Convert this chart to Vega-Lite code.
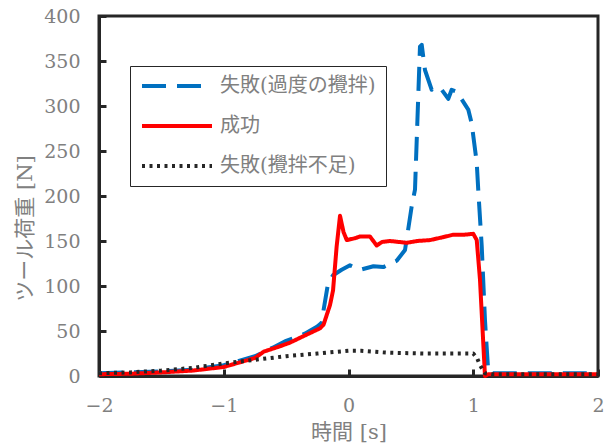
{
  "$schema": "https://vega.github.io/schema/vega-lite/v6.json",
  "width": 499,
  "height": 360,
  "autosize": {"type": "none"},
  "padding": {"left": 99, "top": 16, "right": 13, "bottom": 67},
  "background": "white",
  "config": {
    "view": {"stroke": "#262626", "strokeWidth": 3},
    "axis": {
      "grid": false,
      "zindex": 1,
      "domainColor": "#262626",
      "domainWidth": 3,
      "tickColor": "#262626",
      "tickWidth": 3,
      "tickSize": -7,
      "labelFlush": false,
      "labelFont": "DejaVu Serif, Noto Sans CJK JP",
      "labelFontSize": 19,
      "labelColor": "#808080",
      "titleFont": "DejaVu Serif, Noto Sans CJK JP",
      "titleFontSize": 21,
      "titleColor": "#808080",
      "titleFontWeight": "normal",
      "titleBaseline": "middle"
    }
  },
  "data": {
    "values": [
      {"s": "失敗(過度の攪拌)", "t": -2, "v": 3},
      {"s": "失敗(過度の攪拌)", "t": -1.75, "v": 4},
      {"s": "失敗(過度の攪拌)", "t": -1.5, "v": 5},
      {"s": "失敗(過度の攪拌)", "t": -1.25, "v": 7},
      {"s": "失敗(過度の攪拌)", "t": -1.0, "v": 12},
      {"s": "失敗(過度の攪拌)", "t": -0.75, "v": 22},
      {"s": "失敗(過度の攪拌)", "t": -0.6, "v": 32},
      {"s": "失敗(過度の攪拌)", "t": -0.5, "v": 39},
      {"s": "失敗(過度の攪拌)", "t": -0.35, "v": 47},
      {"s": "失敗(過度の攪拌)", "t": -0.25, "v": 55},
      {"s": "失敗(過度の攪拌)", "t": -0.215, "v": 59},
      {"s": "失敗(過度の攪拌)", "t": -0.2, "v": 73},
      {"s": "失敗(過度の攪拌)", "t": -0.164, "v": 103},
      {"s": "失敗(過度の攪拌)", "t": -0.124, "v": 112},
      {"s": "失敗(過度の攪拌)", "t": -0.055, "v": 118},
      {"s": "失敗(過度の攪拌)", "t": 0.012, "v": 123},
      {"s": "失敗(過度の攪拌)", "t": 0.092, "v": 118},
      {"s": "失敗(過度の攪拌)", "t": 0.2, "v": 122},
      {"s": "失敗(過度の攪拌)", "t": 0.279, "v": 121},
      {"s": "失敗(過度の攪拌)", "t": 0.386, "v": 128},
      {"s": "失敗(過度の攪拌)", "t": 0.453, "v": 140},
      {"s": "失敗(過度の攪拌)", "t": 0.506, "v": 188},
      {"s": "失敗(過度の攪拌)", "t": 0.533, "v": 207},
      {"s": "失敗(過度の攪拌)", "t": 0.573, "v": 366},
      {"s": "失敗(過度の攪拌)", "t": 0.587, "v": 368},
      {"s": "失敗(過度の攪拌)", "t": 0.613, "v": 340},
      {"s": "失敗(過度の攪拌)", "t": 0.667, "v": 318},
      {"s": "失敗(過度の攪拌)", "t": 0.693, "v": 321},
      {"s": "失敗(過度の攪拌)", "t": 0.747, "v": 318},
      {"s": "失敗(過度の攪拌)", "t": 0.8, "v": 308},
      {"s": "失敗(過度の攪拌)", "t": 0.827, "v": 318},
      {"s": "失敗(過度の攪拌)", "t": 0.867, "v": 316},
      {"s": "失敗(過度の攪拌)", "t": 0.96, "v": 296},
      {"s": "失敗(過度の攪拌)", "t": 0.987, "v": 281},
      {"s": "失敗(過度の攪拌)", "t": 1.028, "v": 237},
      {"s": "失敗(過度の攪拌)", "t": 1.04, "v": 207},
      {"s": "失敗(過度の攪拌)", "t": 1.068, "v": 144},
      {"s": "失敗(過度の攪拌)", "t": 1.094, "v": 62},
      {"s": "失敗(過度の攪拌)", "t": 1.12, "v": 5},
      {"s": "失敗(過度の攪拌)", "t": 1.15, "v": 3},
      {"s": "失敗(過度の攪拌)", "t": 1.5, "v": 3},
      {"s": "失敗(過度の攪拌)", "t": 2, "v": 3},
      {"s": "成功", "t": -2, "v": 2},
      {"s": "成功", "t": -1.75, "v": 2.5},
      {"s": "成功", "t": -1.5, "v": 4},
      {"s": "成功", "t": -1.25, "v": 6},
      {"s": "成功", "t": -1.0, "v": 10},
      {"s": "成功", "t": -0.85, "v": 16},
      {"s": "成功", "t": -0.75, "v": 20},
      {"s": "成功", "t": -0.68, "v": 27},
      {"s": "成功", "t": -0.55, "v": 33},
      {"s": "成功", "t": -0.47, "v": 37},
      {"s": "成功", "t": -0.35, "v": 45},
      {"s": "成功", "t": -0.228, "v": 53},
      {"s": "成功", "t": -0.2, "v": 57},
      {"s": "成功", "t": -0.148, "v": 79},
      {"s": "成功", "t": -0.124, "v": 95},
      {"s": "成功", "t": -0.095, "v": 144},
      {"s": "成功", "t": -0.068, "v": 178},
      {"s": "成功", "t": -0.04, "v": 160},
      {"s": "成功", "t": -0.014, "v": 151},
      {"s": "成功", "t": 0.05, "v": 153},
      {"s": "成功", "t": 0.092, "v": 155},
      {"s": "成功", "t": 0.172, "v": 155},
      {"s": "成功", "t": 0.226, "v": 145},
      {"s": "成功", "t": 0.27, "v": 149},
      {"s": "成功", "t": 0.333, "v": 150},
      {"s": "成功", "t": 0.466, "v": 148},
      {"s": "成功", "t": 0.55, "v": 150},
      {"s": "成功", "t": 0.653, "v": 151},
      {"s": "成功", "t": 0.75, "v": 154},
      {"s": "成功", "t": 0.84, "v": 157},
      {"s": "成功", "t": 0.93, "v": 157},
      {"s": "成功", "t": 1.0, "v": 158},
      {"s": "成功", "t": 1.028, "v": 151},
      {"s": "成功", "t": 1.054, "v": 107},
      {"s": "成功", "t": 1.094, "v": 0},
      {"s": "成功", "t": 1.12, "v": 2},
      {"s": "成功", "t": 1.5, "v": 2},
      {"s": "成功", "t": 2, "v": 2},
      {"s": "失敗(攪拌不足)", "t": -2, "v": 3},
      {"s": "失敗(攪拌不足)", "t": -1.75, "v": 4},
      {"s": "失敗(攪拌不足)", "t": -1.5, "v": 6},
      {"s": "失敗(攪拌不足)", "t": -1.25, "v": 9},
      {"s": "失敗(攪拌不足)", "t": -1.0, "v": 14},
      {"s": "失敗(攪拌不足)", "t": -0.75, "v": 18},
      {"s": "失敗(攪拌不足)", "t": -0.5, "v": 22},
      {"s": "失敗(攪拌不足)", "t": -0.25, "v": 25},
      {"s": "失敗(攪拌不足)", "t": 0, "v": 28},
      {"s": "失敗(攪拌不足)", "t": 0.1, "v": 28},
      {"s": "失敗(攪拌不足)", "t": 0.3, "v": 26},
      {"s": "失敗(攪拌不足)", "t": 0.6, "v": 25},
      {"s": "失敗(攪拌不足)", "t": 0.9, "v": 25},
      {"s": "失敗(攪拌不足)", "t": 1.0, "v": 25},
      {"s": "失敗(攪拌不足)", "t": 1.03, "v": 20},
      {"s": "失敗(攪拌不足)", "t": 1.054, "v": 12},
      {"s": "失敗(攪拌不足)", "t": 1.094, "v": 3},
      {"s": "失敗(攪拌不足)", "t": 1.15, "v": 2},
      {"s": "失敗(攪拌不足)", "t": 1.5, "v": 2},
      {"s": "失敗(攪拌不足)", "t": 2, "v": 2}
    ]
  },
  "mark": {"type": "line", "strokeWidth": 4, "strokeJoin": "round"},
  "encoding": {
    "x": {
      "field": "t",
      "type": "quantitative",
      "scale": {"domain": [-2, 2], "nice": false},
      "axis": {"title": "時間 [s]", "values": [-2, -1, 0, 1, 2], "labelPadding": 27, "titleY": 56}
    },
    "y": {
      "field": "v",
      "type": "quantitative",
      "scale": {"domain": [0, 400], "nice": false},
      "axis": {"title": "ツール荷重 [N]", "values": [0, 50, 100, 150, 200, 250, 300, 350, 400], "labelPadding": 26, "titleX": -74, "titleY": 212}
    },
    "color": {
      "field": "s",
      "type": "nominal",
      "scale": {"domain": ["失敗(過度の攪拌)", "成功", "失敗(攪拌不足)"], "range": ["#0070C0", "#FF0000", "#262626"]},
      "legend": {
        "title": null,
        "orient": "none",
        "legendX": 31,
        "legendY": 50,
        "strokeColor": "#262626",
        "fillColor": "white",
        "padding": 10,
        "clipHeight": 20,
        "symbolType": "stroke",
        "symbolSize": 4900,
        "symbolStrokeWidth": 4,
        "labelFont": "DejaVu Serif, Noto Sans CJK JP",
        "labelFontSize": 20,
        "labelColor": "#808080",
        "labelOffset": 6,
        "labelLimit": 400,
        "rowPadding": 20
      }
    },
    "strokeDash": {
      "field": "s",
      "type": "nominal",
      "scale": {"domain": ["失敗(過度の攪拌)", "成功", "失敗(攪拌不足)"], "range": [[24, 11], [1, 0], [3, 4.5]]},
      "legend": {
        "title": null,
        "orient": "none",
        "legendX": 31,
        "legendY": 50,
        "strokeColor": "#262626",
        "fillColor": "white",
        "padding": 10,
        "clipHeight": 20,
        "symbolType": "stroke",
        "symbolSize": 4900,
        "symbolStrokeWidth": 4,
        "labelFont": "DejaVu Serif, Noto Sans CJK JP",
        "labelFontSize": 20,
        "labelColor": "#808080",
        "labelOffset": 6,
        "labelLimit": 400,
        "rowPadding": 20
      }
    }
  }
}
